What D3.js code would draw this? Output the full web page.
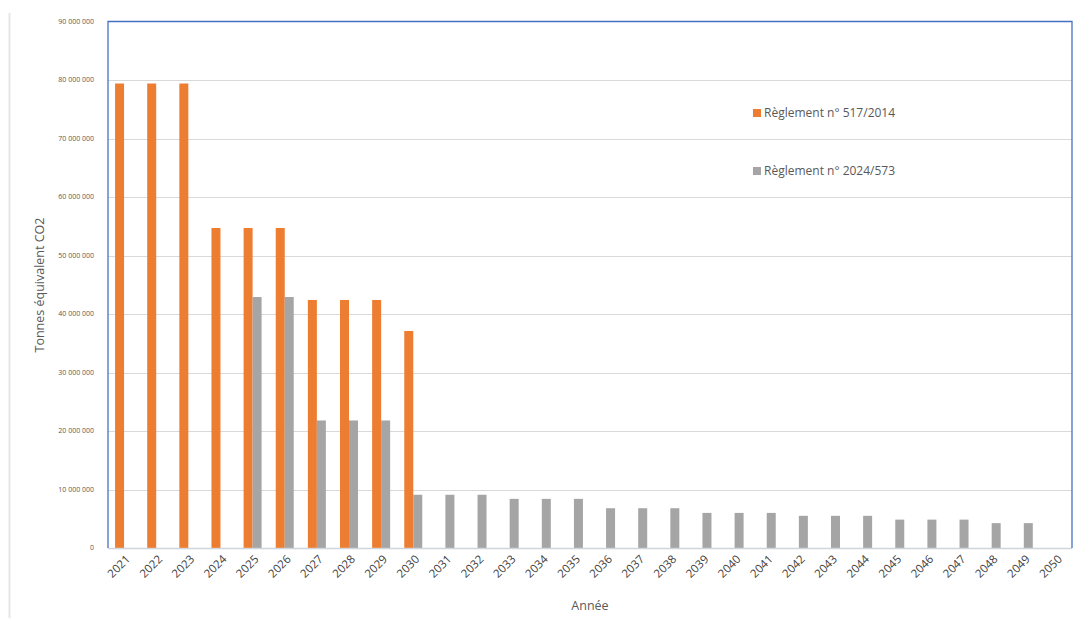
<!DOCTYPE html>
<html><head><meta charset="utf-8">
<script src="https://cdn.jsdelivr.net/npm/d3@7"></script>
<style>body{margin:0;background:#fff;} svg{display:block;}</style>
</head><body>
<svg id="c" width="1078" height="618"></svg>
<script>
const years = d3.range(2021, 2051).map(String);
const seriesNames = ["Règlement n° 517/2014", "Règlement n° 2024/573"];
const reg517 = [79400000,79400000,79400000,54700000,54700000,54700000,42400000,42400000,42400000,37100000,
  null,null,null,null,null,null,null,null,null,null,null,null,null,null,null,null,null,null,null,null];
const reg573 = [null,null,null,null,42900000,42900000,21800000,21800000,21800000,9100000,
  9100000,9100000,8400000,8400000,8400000,6800000,6800000,6800000,6000000,6000000,
  6000000,5500000,5500000,5500000,4850000,4850000,4850000,4250000,4250000,null];
const yTicks = d3.range(0, 90000001, 10000000);
const colors = ["#ed7d31", "#a5a5a5"];

const svg = d3.select("#c");
const m = {l:108, r:1072, t:21.5, b:548};
const x = d3.scaleBand().domain(years).range([m.l, m.r]).paddingInner(0.44).paddingOuter(0.22);
const xs = d3.scaleBand().domain([0,1]).range([0, x.bandwidth()]);
const y = d3.scaleLinear().domain([0, 90000000]).range([m.b, m.t]);
const fmt = v => d3.format(",")(v).replace(/,/g, " ");

// outer frame line
svg.append("line").attr("x1",9.5).attr("x2",9.5).attr("y1",13).attr("y2",618).attr("stroke","#e6e6e6").attr("stroke-width",2);

// gridlines
svg.append("g").selectAll("line").data(yTicks.filter(d=>d>0 && d<90000000)).join("line")
  .attr("x1", m.l).attr("x2", m.r).attr("y1", d=>Math.round(y(d))+0.5).attr("y2", d=>Math.round(y(d))+0.5)
  .attr("stroke", "#d9d9d9").attr("stroke-width", 1);

// y tick labels
svg.append("g").selectAll("text").data(yTicks).join("text")
  .attr("x", 94).attr("y", d=>y(d)).attr("dy","0.35em").attr("text-anchor","end")
  .attr("font-family","Open Sans, sans-serif").attr("font-size",7).attr("fill","#595959")
  .text(d=>fmt(d));

// bars
const series = [reg517, reg573];
series.forEach((s, i) => {
  svg.append("g").selectAll("rect").data(years.map((yr, j) => ({yr, v: s[j]})).filter(d=>d.v!=null)).join("rect")
    .attr("x", d=>x(d.yr)+xs(i)).attr("width", xs.bandwidth())
    .attr("y", d=>y(d.v)).attr("height", d=>y(0)-y(d.v))
    .attr("fill", colors[i]);
});

// bottom axis line
svg.append("line").attr("x1", m.l).attr("x2", m.r).attr("y1", m.b+0.5).attr("y2", m.b+0.5)
  .attr("stroke","#d0d4dc").attr("stroke-width",1.5);

// blue border top/left/right
svg.append("path").attr("d", `M${m.l},${m.b}V${m.t}H${m.r}V${m.b}`)
  .attr("fill","none").attr("stroke","#4472c4").attr("stroke-width",1.3);

// x labels
svg.append("g").selectAll("text").data(years).join("text")
  .attr("transform", d=>`translate(${x(d)+x.bandwidth()/2+4},${m.b+9}) rotate(-45)`)
  .attr("text-anchor","end").attr("dy","0.35em")
  .attr("font-family","Open Sans, sans-serif").attr("font-size",11.5).attr("fill","#404040")
  .text(d=>d);

// axis titles
svg.append("text").attr("transform","translate(44,285) rotate(-90)").attr("text-anchor","middle")
  .attr("font-family","Open Sans, sans-serif").attr("font-size",12.5).attr("fill","#595959")
  .text("Tonnes équivalent CO2");
svg.append("text").attr("x",590).attr("y",610).attr("text-anchor","middle")
  .attr("font-family","Open Sans, sans-serif").attr("font-size",12.5).attr("fill","#595959")
  .text("Année");

// legend
const leg = svg.append("g").selectAll("g").data(seriesNames).join("g")
  .attr("transform",(d,i)=>`translate(753,${113 + i*58})`);
leg.append("rect").attr("x",0).attr("y",-4).attr("width",8).attr("height",8).attr("fill",(d,i)=>colors[i]);
leg.append("text").attr("x",11).attr("y",0).attr("dy","0.35em")
  .attr("font-family","Open Sans, sans-serif").attr("font-size",12).attr("fill","#595959")
  .text(d=>d);
</script>
</body></html>
